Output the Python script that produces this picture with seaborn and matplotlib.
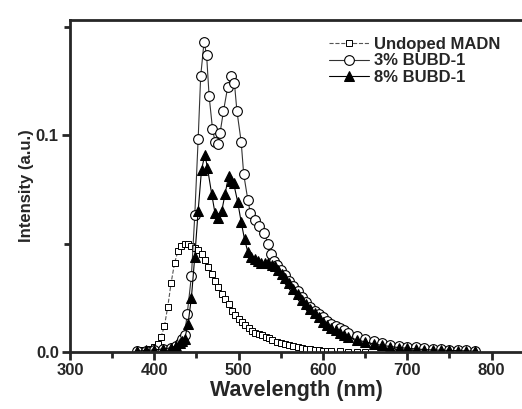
import numpy as np
import pandas as pd
import matplotlib
matplotlib.use("Agg")
import matplotlib.pyplot as plt
import seaborn as sns
from matplotlib.ticker import MultipleLocator

# values
undoped_wl = [380, 385, 390, 395, 400, 404, 408, 412, 416, 420, 424, 428, 432, 436,
              440, 444, 448, 452, 456, 460, 464, 468, 472, 476, 480, 484, 488, 492,
              496, 500, 504, 508, 512, 516, 520, 524, 528, 532, 536, 540, 545, 550,
              555, 560, 565, 570, 575, 580, 585, 590, 595, 600, 605, 610, 620, 630,
              640, 650]
undoped_int = [0.0005, 0.0008, 0.001, 0.0015, 0.0025, 0.0037, 0.007, 0.012, 0.021,
               0.032, 0.041, 0.0465, 0.049, 0.050, 0.0498, 0.049, 0.048, 0.047, 0.045,
               0.0425, 0.039, 0.036, 0.033, 0.030, 0.027, 0.0245, 0.022, 0.019, 0.017,
               0.0152, 0.0138, 0.0124, 0.011, 0.0098, 0.009, 0.0084, 0.0077, 0.007,
               0.0063, 0.0056, 0.0049, 0.0043, 0.0037, 0.0032, 0.0027, 0.0023, 0.0019,
               0.0016, 0.0013, 0.0011, 0.0009, 0.0007, 0.0006, 0.0005, 0.0003, 0.0002,
               0.0001, 0.0]

bubd3_wl = [380, 390, 400, 410, 420, 426, 430, 433, 436, 439, 444, 448, 452, 455, 459,
            462, 465, 469, 472, 475, 478, 482, 487, 491, 495, 498, 503, 506, 511, 514,
            519, 524, 530, 535, 538, 542, 546, 550, 555, 560, 565, 570, 575, 580, 585,
            590, 595, 600, 605, 610, 615, 620, 625, 630, 640, 650, 660, 670, 680, 690,
            700, 710, 720, 730, 740, 750, 760, 770, 780]
bubd3_int = [0.0005, 0.0007, 0.001, 0.0015, 0.002, 0.003, 0.004, 0.006, 0.008, 0.0175,
             0.035, 0.063, 0.098, 0.127, 0.143, 0.137, 0.118, 0.103, 0.097, 0.096,
             0.101, 0.111, 0.122, 0.127, 0.124, 0.111, 0.097, 0.082, 0.070, 0.064,
             0.061, 0.058, 0.055, 0.050, 0.045, 0.042, 0.040, 0.038, 0.0355, 0.033,
             0.0305, 0.028, 0.0255, 0.023, 0.021, 0.019, 0.0175, 0.016, 0.0145, 0.013,
             0.012, 0.011, 0.010, 0.009, 0.0075, 0.0062, 0.005, 0.0042, 0.0035, 0.003,
             0.0026, 0.0022, 0.0019, 0.0016, 0.0014, 0.0012, 0.001, 0.0008, 0.0007]

bubd8_wl = [380, 390, 400, 410, 420, 426, 430, 433, 436, 440, 444, 448, 452, 456, 460,
            463, 468, 472, 475, 480, 484, 488, 491, 494, 499, 503, 507, 511, 515, 519,
            523, 527, 531, 535, 539, 543, 547, 551, 555, 560, 565, 570, 575, 580, 585,
            590, 595, 600, 605, 610, 615, 620, 625, 630, 640, 650, 660, 670, 680, 690,
            700, 710, 720, 730, 740, 750, 760, 770, 780]
bubd8_int = [0.0005, 0.0008, 0.001, 0.0015, 0.002, 0.003, 0.004, 0.005, 0.006, 0.013,
             0.025, 0.044, 0.065, 0.084, 0.091, 0.085, 0.073, 0.064, 0.062, 0.065,
             0.073, 0.081, 0.079, 0.078, 0.069, 0.060, 0.052, 0.046, 0.044, 0.043,
             0.042, 0.041, 0.041, 0.041, 0.040, 0.0395, 0.038, 0.036, 0.034, 0.032,
             0.029, 0.027, 0.024, 0.022, 0.020, 0.018, 0.016, 0.014, 0.0125, 0.011,
             0.010, 0.009, 0.008, 0.007, 0.0057, 0.0047, 0.0038, 0.0031, 0.0026,
             0.0021, 0.0018, 0.0015, 0.0012, 0.001, 0.0009, 0.0008, 0.0007, 0.0006,
             0.0005]

labels = ["Undoped MADN", "3% BUBD-1", "8% BUBD-1"]

sns.set_style("ticks")
plt.rcParams.update({
    "font.family": ["Liberation Sans", "DejaVu Sans"],
    "font.weight": "bold",
    "axes.linewidth": 2.0,
    "xtick.major.width": 2.0,
    "ytick.major.width": 2.0,
    "xtick.minor.width": 2.0,
    "ytick.minor.width": 2.0,
    "xtick.direction": "out",
    "ytick.direction": "out",
})

fig = plt.figure(figsize=(5.22, 4.09), dpi=100)
ax = fig.add_axes([0.134, 0.139, 0.866, 0.812])

sns.lineplot(x=undoped_wl, y=undoped_int, ax=ax, color="#555555", linestyle="--",
             linewidth=0.8, marker="s", markersize=5, markerfacecolor="white",
             markeredgecolor="black", markeredgewidth=0.7, label=labels[0])
sns.lineplot(x=bubd3_wl, y=bubd3_int, ax=ax, color="#333333", linestyle="-",
             linewidth=0.8, marker="o", markersize=7, markerfacecolor="white",
             markeredgecolor="black", markeredgewidth=0.8, label=labels[1])
sns.lineplot(x=bubd8_wl, y=bubd8_int, ax=ax, color="black", linestyle="-",
             linewidth=0.8, marker="^", markersize=6.5, markerfacecolor="black",
             markeredgecolor="black", label=labels[2])

ax.set_xlim(300, 836)
ax.set_ylim(0, 0.153)
ax.xaxis.set_major_locator(MultipleLocator(100))
ax.xaxis.set_minor_locator(MultipleLocator(50))
ax.yaxis.set_major_locator(MultipleLocator(0.1))
ax.yaxis.set_minor_locator(MultipleLocator(0.05))
ax.yaxis.set_major_formatter(matplotlib.ticker.FormatStrFormatter("%.1f"))
ax.tick_params(which="major", length=6, labelsize=12, pad=2)
ax.tick_params(which="minor", length=4)
ax.spines["right"].set_visible(False)

ax.set_xlabel("Wavelength (nm)", fontsize=15.5, fontweight="bold", labelpad=1)
ax.set_ylabel("Intensity (a.u.)", fontsize=12, fontweight="bold", labelpad=1)

leg = ax.legend(loc="upper right", bbox_to_anchor=(0.985, 0.995), frameon=False,
                fontsize=12, handlelength=2.4, handletextpad=0.3, labelspacing=0.1)
for t in leg.get_texts():
    t.set_fontweight("bold")

fig.savefig("out.png", dpi=100)
